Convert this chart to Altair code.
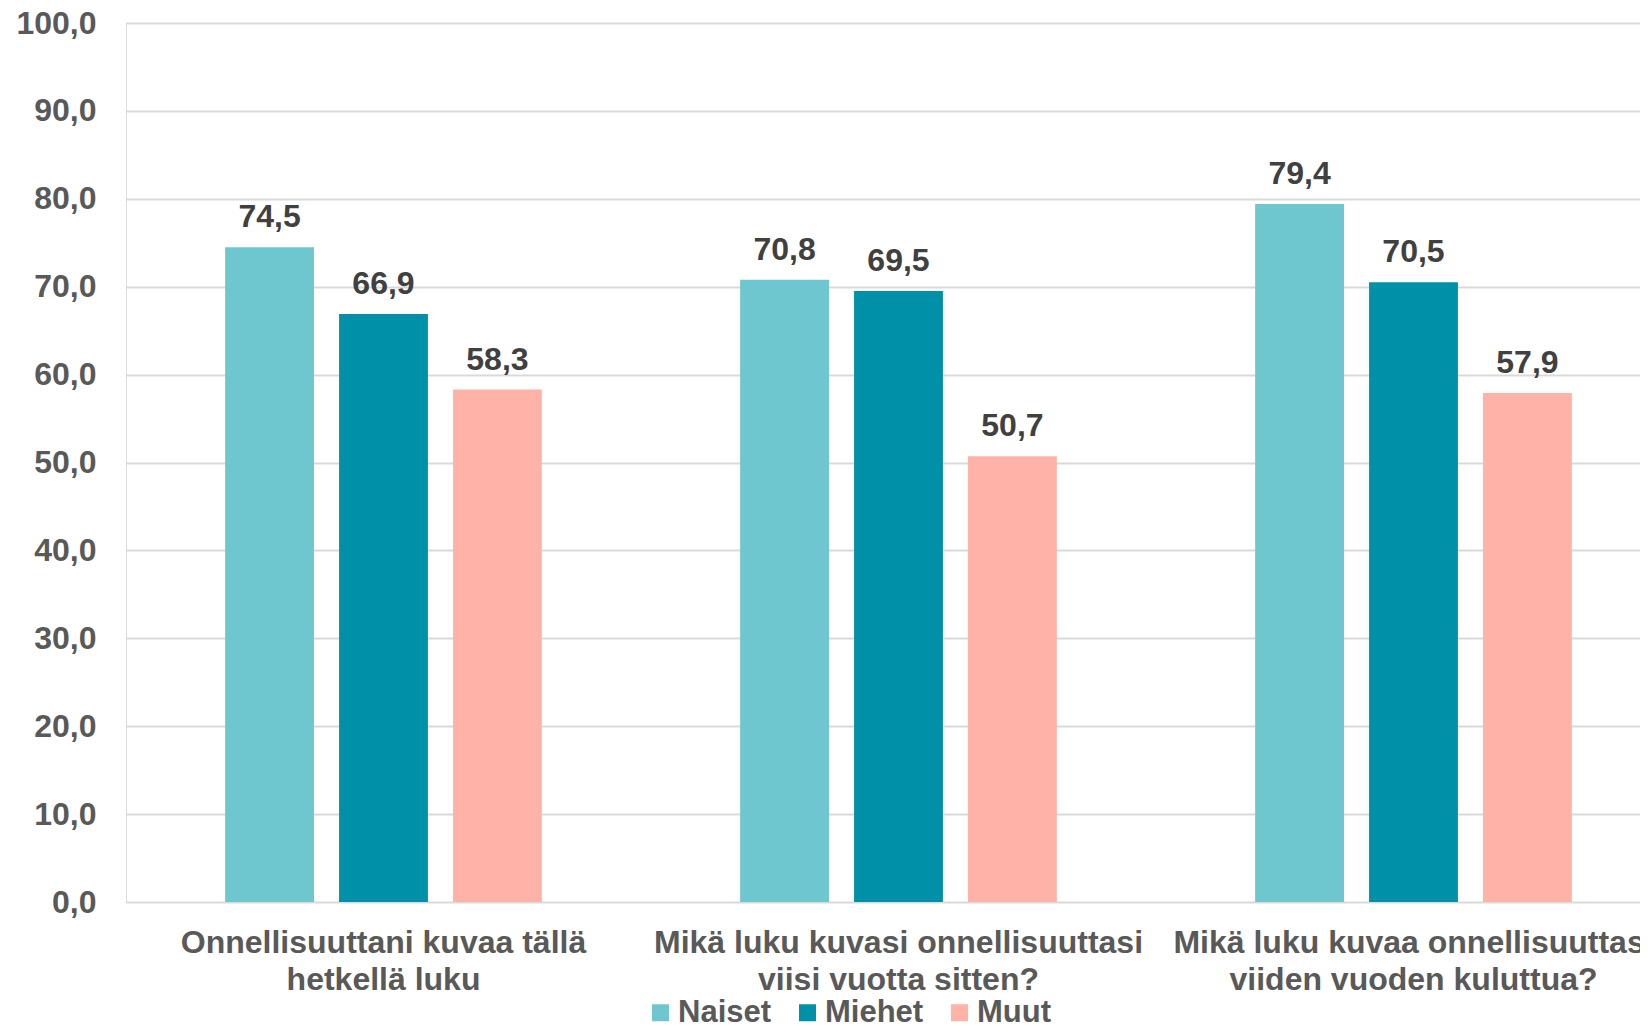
import altair as alt
import pandas as pd

categories = [
    "Onnellisuuttani kuvaa tällä\nhetkellä luku",
    "Mikä luku kuvasi onnellisuuttasi\nviisi vuotta sitten?",
    "Mikä luku kuvaa onnellisuuttasi\nviiden vuoden kuluttua?",
]
series = ["Naiset", "Miehet", "Muut"]
naiset = [74.5, 70.8, 79.4]
miehet = [66.9, 69.5, 70.5]
muut = [58.3, 50.7, 57.9]
colors = ["#6EC7CF", "#0091A9", "#FFB3A8"]
y_ticks = [0, 10, 20, 30, 40, 50, 60, 70, 80, 90, 100]

rows = []
for s, vals in zip(series, [naiset, miehet, muut]):
    for c, v in zip(categories, vals):
        rows.append({"cat": c, "series": s, "value": v,
                     "lab": f"{v:.1f}".replace(".", ",")})
df = pd.DataFrame(rows)

FONT = "Liberation Sans"

x = alt.X(
    "cat:N", sort=categories, title=None,
    scale=alt.Scale(range=[0, 1545], paddingInner=0.385, paddingOuter=0.1925),
    axis=alt.Axis(
        labelExpr="split(datum.label, '\\n')",
        labelAngle=0, labelFont=FONT, labelFontWeight="bold", labelFontSize=32,
        labelColor="#595959", labelLineHeight=37, labelPadding=25,
        ticks=False, domain=False, grid=False, labelLimit=1000,
    ),
)
xo = alt.XOffset("series:N", sort=series,
                 scale=alt.Scale(paddingInner=0.22, paddingOuter=0))
y = alt.Y(
    "value:Q", title=None,
    scale=alt.Scale(domain=[0, 100], nice=False),
    axis=alt.Axis(
        values=y_ticks,
        labelExpr="replace(format(datum.value, '.1f'), '.', ',')",
        labelFont=FONT, labelFontWeight="bold", labelFontSize=32,
        labelColor="#595959", labelPadding=30, ticks=False, domain=False,
        grid=True, gridColor="#D9D9D9", gridWidth=2,
    ),
)
color = alt.Color(
    "series:N", sort=series,
    scale=alt.Scale(domain=series, range=colors),
    legend=alt.Legend(
        title=None, orient="none", direction="horizontal",
        legendX=519, legendY=974, symbolType="square", symbolSize=289,
        symbolStrokeWidth=0, labelFont=FONT, labelFontWeight="bold",
        labelFontSize=31, labelColor="#595959", labelOffset=2,
        columnPadding=20, padding=0,
    ),
)

bars = alt.Chart(df).mark_bar().encode(x=x, xOffset=xo, y=y, color=color)
text = alt.Chart(df).mark_text(
    baseline="alphabetic", dy=-20, font=FONT, fontWeight="bold",
    fontSize=32, color="#404040",
).encode(x=x, xOffset=xo, y=y, text="lab:N")

chart = alt.layer(bars, text).properties(
    width=1514, height=879,
    autosize=alt.AutoSizeParams(type="none"),
    padding={"left": 118, "top": 15, "right": 0, "bottom": 128},
).configure_view(stroke=None).configure(background="white")

chart.save("out.html", embed_options={"renderer": "svg", "actions": False})
